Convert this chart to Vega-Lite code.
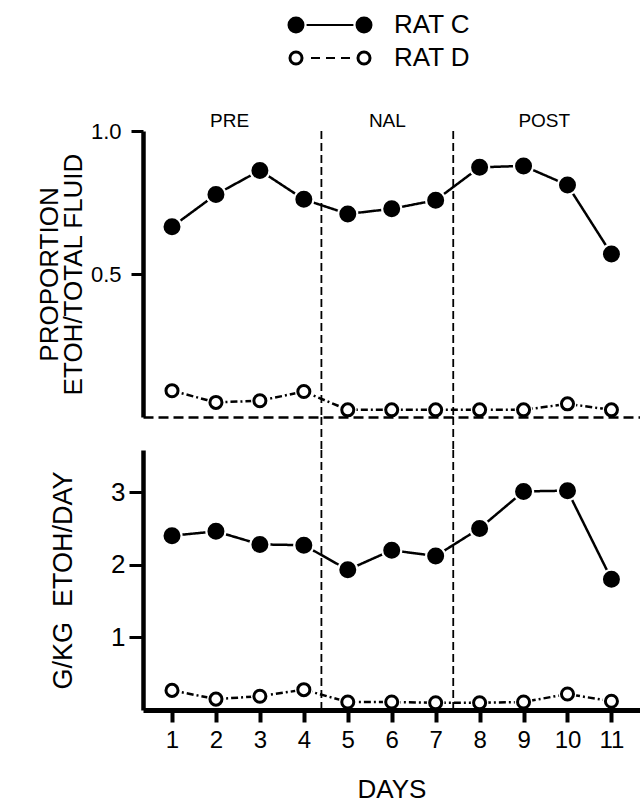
{
  "$schema": "https://vega.github.io/schema/vega-lite/v6.json",
  "background": "white",
  "padding": {"left": 36, "top": 12, "right": 0, "bottom": 0},
  "bounds": "flush",
  "spacing": 60,
  "config": {
    "font": "Liberation Sans",
    "view": {"stroke": null},
    "axis": {"grid": false, "domainColor": "black", "tickColor": "black", "labelColor": "black", "titleColor": "black", "titleFontWeight": "normal", "labelFlush": false, "labelOverlap": false}
  },
  "data": {"values": [
    {"kind": "obs", "day": 1, "rat": "RAT C", "prop": 0.665, "gkg": 2.40},
    {"kind": "obs", "day": 2, "rat": "RAT C", "prop": 0.778, "gkg": 2.46},
    {"kind": "obs", "day": 3, "rat": "RAT C", "prop": 0.862, "gkg": 2.28},
    {"kind": "obs", "day": 4, "rat": "RAT C", "prop": 0.761, "gkg": 2.27},
    {"kind": "obs", "day": 5, "rat": "RAT C", "prop": 0.710, "gkg": 1.93},
    {"kind": "obs", "day": 6, "rat": "RAT C", "prop": 0.728, "gkg": 2.20},
    {"kind": "obs", "day": 7, "rat": "RAT C", "prop": 0.758, "gkg": 2.12},
    {"kind": "obs", "day": 8, "rat": "RAT C", "prop": 0.873, "gkg": 2.50},
    {"kind": "obs", "day": 9, "rat": "RAT C", "prop": 0.878, "gkg": 3.01},
    {"kind": "obs", "day": 10, "rat": "RAT C", "prop": 0.811, "gkg": 3.02},
    {"kind": "obs", "day": 11, "rat": "RAT C", "prop": 0.570, "gkg": 1.80},
    {"kind": "obs", "day": 1, "rat": "RAT D", "prop": 0.092, "gkg": 0.27},
    {"kind": "obs", "day": 2, "rat": "RAT D", "prop": 0.051, "gkg": 0.15},
    {"kind": "obs", "day": 3, "rat": "RAT D", "prop": 0.057, "gkg": 0.19},
    {"kind": "obs", "day": 4, "rat": "RAT D", "prop": 0.089, "gkg": 0.28},
    {"kind": "obs", "day": 5, "rat": "RAT D", "prop": 0.025, "gkg": 0.11},
    {"kind": "obs", "day": 6, "rat": "RAT D", "prop": 0.025, "gkg": 0.11},
    {"kind": "obs", "day": 7, "rat": "RAT D", "prop": 0.025, "gkg": 0.10},
    {"kind": "obs", "day": 8, "rat": "RAT D", "prop": 0.025, "gkg": 0.10},
    {"kind": "obs", "day": 9, "rat": "RAT D", "prop": 0.025, "gkg": 0.11},
    {"kind": "obs", "day": 10, "rat": "RAT D", "prop": 0.046, "gkg": 0.22},
    {"kind": "obs", "day": 11, "rat": "RAT D", "prop": 0.025, "gkg": 0.12},
    {"kind": "boundary", "day": 4.4},
    {"kind": "boundary", "day": 7.4},
    {"kind": "legend", "rat": "RAT C", "end": "start"},
    {"kind": "legend", "rat": "RAT C", "end": "end"},
    {"kind": "legend", "rat": "RAT D", "end": "start"},
    {"kind": "legend", "rat": "RAT D", "end": "end"}
  ]},
  "resolve": {"scale": {"x": "independent", "y": "independent"}},
  "vconcat": [
    {
      "width": 238,
      "height": 59,
      "transform": [{"filter": "datum.kind === 'legend'"}],
      "encoding": {
        "x": {"field": "end", "type": "nominal", "scale": {"type": "point", "domain": ["gap1", "gap2", "start", "end"], "padding": 0.25}, "axis": null},
        "y": {"field": "rat", "type": "nominal", "scale": {"type": "point", "domain": ["RAT C", "RAT D"], "padding": 0.394}, "axis": null}
      },
      "layer": [
        {"transform": [{"filter": "datum.rat === 'RAT C'"}], "mark": {"type": "line", "color": "black", "strokeWidth": 2}},
        {"transform": [{"filter": "datum.rat === 'RAT D'"}], "mark": {"type": "line", "color": "black", "strokeWidth": 2, "strokeDash": [9, 6]}},
        {"mark": {"type": "circle", "size": 452, "fill": "white", "opacity": 1}},
        {"transform": [{"filter": "datum.rat === 'RAT C'"}], "mark": {"type": "circle", "size": 196, "fill": "black", "stroke": "black", "strokeWidth": 3, "opacity": 1}},
        {"transform": [{"filter": "datum.rat === 'RAT D'"}], "mark": {"type": "circle", "size": 145, "fill": "white", "stroke": "black", "strokeWidth": 3, "opacity": 1}},
        {"transform": [{"filter": "datum.end === 'end'"}], "mark": {"type": "text", "fontSize": 26, "align": "left", "baseline": "middle", "dx": 30, "color": "black"},
         "encoding": {"text": {"field": "rat", "type": "nominal"}}}
      ]
    },
    {
      "bounds": "flush",
      "spacing": 0,
      "resolve": {"scale": {"x": "independent", "y": "independent"}},
      "vconcat": [
        {
          "width": 497,
          "height": 286,
          "resolve": {"axis": {"x": "independent"}},
          "encoding": {
            "x": {"field": "day", "type": "quantitative", "scale": {"domain": [0.34, 11.65], "nice": false, "zero": false}, "axis": null}
          },
          "layer": [
            {
              "transform": [{"filter": "datum.kind === 'boundary'"}],
              "mark": {"type": "rule", "color": "black", "strokeWidth": 1.8, "strokeDash": [8, 4]}
            },
            {
              "transform": [{"filter": "datum.kind === 'obs'"}],
              "mark": {"type": "line", "color": "black", "strokeWidth": 2.5},
              "encoding": {
                "x": {"field": "day", "type": "quantitative", "scale": {"domain": [0.34, 11.65], "nice": false, "zero": false},
                      "axis": {"orient": "bottom", "domainDash": [10, 5], "domainWidth": 2.5, "ticks": false, "labels": false, "title": null, "zindex": 1}},
                "y": {"field": "prop", "type": "quantitative", "scale": {"domain": [0, 1], "nice": false},
                      "axis": {"values": [0.5, 1], "format": ".1f", "domainWidth": 4.5, "tickWidth": 3, "tickSize": 12, "labelFontSize": 22, "labelPadding": 10,
                               "title": ["PROPORTION", "ETOH/TOTAL FLUID"], "titleFontSize": 26, "titleLineHeight": 24, "titleX": -94, "titleBaseline": "middle"}},
                "strokeDash": {"field": "rat", "type": "nominal", "scale": {"domain": ["RAT C", "RAT D"], "range": [[1, 0], [7, 3, 2, 3]]}, "legend": null}
              }
            },
            {
              "transform": [{"filter": "datum.kind === 'obs' && datum.rat === 'RAT C'"}],
              "mark": {"type": "circle", "size": 452, "fill": "white", "opacity": 1},
              "encoding": {
                "x": {"field": "day", "type": "quantitative", "scale": {"domain": [0.34, 11.65], "nice": false, "zero": false},
                      "axis": {"orient": "top", "values": [2.3, 5.89, 9.46], "labelExpr": "datum.value < 4 ? 'PRE' : datum.value < 7.5 ? 'NAL' : 'POST'",
                               "domain": false, "ticks": false, "tickSize": 0, "labelPadding": 1, "labelFontSize": 19, "title": null}},
                "y": {"field": "prop", "type": "quantitative"}
              }
            },
            {
              "transform": [{"filter": "datum.kind === 'obs' && datum.rat === 'RAT D'"}],
              "mark": {"type": "circle", "size": 314, "fill": "white", "opacity": 1},
              "encoding": {"y": {"field": "prop", "type": "quantitative"}}
            },
            {
              "transform": [{"filter": "datum.kind === 'obs' && datum.rat === 'RAT C'"}],
              "mark": {"type": "circle", "size": 196, "stroke": "black", "strokeWidth": 3, "fill": "black", "opacity": 1},
              "encoding": {"y": {"field": "prop", "type": "quantitative"}}
            },
            {
              "transform": [{"filter": "datum.kind === 'obs' && datum.rat === 'RAT D'"}],
              "mark": {"type": "circle", "size": 145, "stroke": "black", "strokeWidth": 3, "fill": "white", "opacity": 1},
              "encoding": {"y": {"field": "prop", "type": "quantitative"}}
            }
          ]
        },
        {
          "width": 497,
          "height": 33,
          "transform": [{"filter": "datum.kind === 'boundary'"}],
          "mark": {"type": "rule", "color": "black", "strokeWidth": 1.8, "strokeDash": [8, 4]},
          "encoding": {
            "x": {"field": "day", "type": "quantitative", "scale": {"domain": [0.34, 11.65], "nice": false, "zero": false}, "axis": null}
          }
        },
        {
          "width": 497,
          "height": 260,
          "encoding": {
            "x": {"field": "day", "type": "quantitative", "scale": {"domain": [0.34, 11.65], "nice": false, "zero": false},
                  "axis": {"values": [1, 2, 3, 4, 5, 6, 7, 8, 9, 10, 11], "format": "d", "domainWidth": 5, "tickWidth": 4, "tickSize": 12, "labelFontSize": 24, "labelPadding": 6,
                           "title": "DAYS", "titleFontSize": 26, "titleY": 79, "titleBaseline": "middle", "zindex": 1}}
          },
          "layer": [
            {
              "transform": [{"filter": "datum.kind === 'boundary'"}],
              "mark": {"type": "rule", "color": "black", "strokeWidth": 1.8, "strokeDash": [8, 4]}
            },
            {
              "transform": [{"filter": "datum.kind === 'obs'"}],
              "mark": {"type": "line", "color": "black", "strokeWidth": 2.5},
              "encoding": {
                "y": {"field": "gkg", "type": "quantitative", "scale": {"domain": [0, 3.58], "nice": false},
                      "axis": {"values": [1, 2, 3], "format": "d", "domainWidth": 4.5, "tickWidth": 3, "tickSize": 14, "labelFontSize": 26, "labelPadding": 4,
                               "title": "G/KG\u00a0\u00a0ETOH/DAY", "titleFontSize": 27, "titleX": -80, "titleBaseline": "middle"}},
                "strokeDash": {"field": "rat", "type": "nominal", "scale": {"domain": ["RAT C", "RAT D"], "range": [[1, 0], [7, 3, 2, 3]]}, "legend": null}
              }
            },
            {
              "transform": [{"filter": "datum.kind === 'obs' && datum.rat === 'RAT C'"}],
              "mark": {"type": "circle", "size": 452, "fill": "white", "opacity": 1},
              "encoding": {"y": {"field": "gkg", "type": "quantitative"}}
            },
            {
              "transform": [{"filter": "datum.kind === 'obs' && datum.rat === 'RAT D'"}],
              "mark": {"type": "circle", "size": 314, "fill": "white", "opacity": 1},
              "encoding": {"y": {"field": "gkg", "type": "quantitative"}}
            },
            {
              "transform": [{"filter": "datum.kind === 'obs' && datum.rat === 'RAT C'"}],
              "mark": {"type": "circle", "size": 196, "stroke": "black", "strokeWidth": 3, "fill": "black", "opacity": 1},
              "encoding": {"y": {"field": "gkg", "type": "quantitative"}}
            },
            {
              "transform": [{"filter": "datum.kind === 'obs' && datum.rat === 'RAT D'"}],
              "mark": {"type": "circle", "size": 145, "stroke": "black", "strokeWidth": 3, "fill": "white", "opacity": 1},
              "encoding": {"y": {"field": "gkg", "type": "quantitative"}}
            }
          ]
        }
      ]
    }
  ]
}
